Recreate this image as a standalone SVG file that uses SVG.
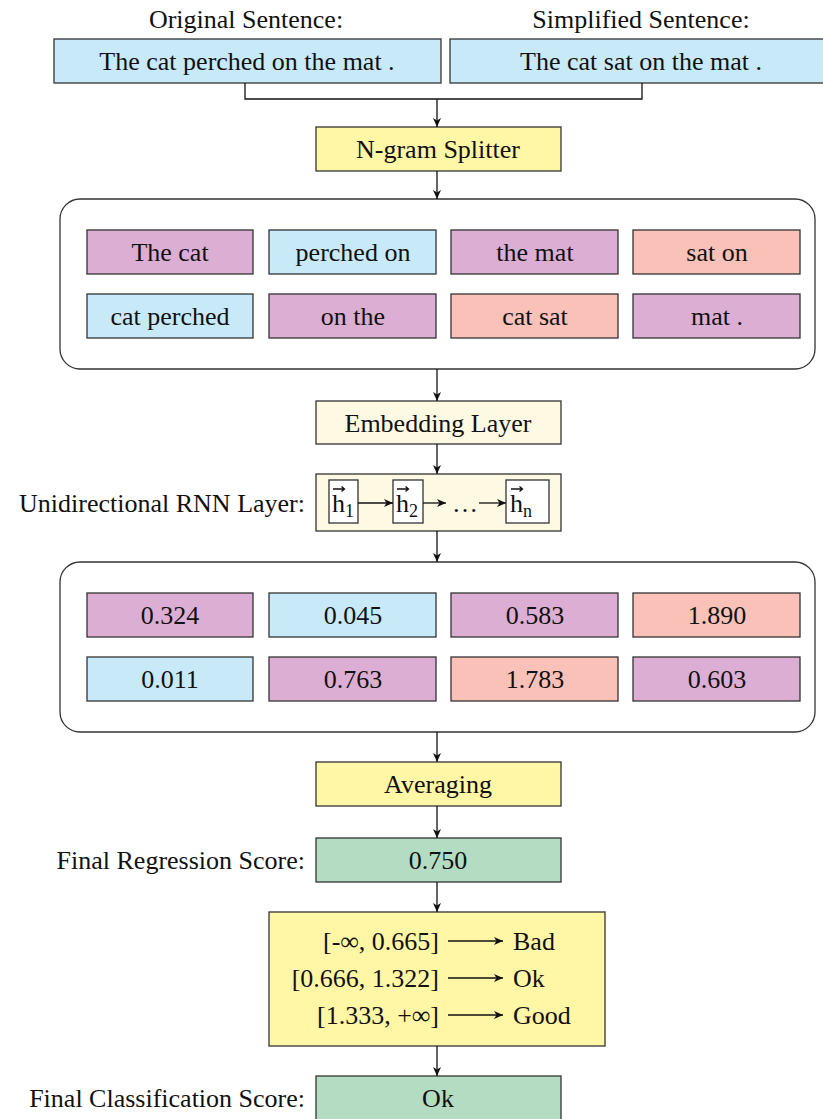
<svg xmlns="http://www.w3.org/2000/svg" width="823" height="1119" viewBox="0 0 823 1119">
  <style>
    text { font-family: "Liberation Serif", "DejaVu Serif", serif; font-size: 26px; fill: #111; }
    .c { text-anchor: middle; }
    .e { text-anchor: end; }
    .box { stroke: #333; stroke-width: 1.3; }
    .blue { fill: #c7e9f8; }
    .purple { fill: #ddaed3; }
    .salmon { fill: #f9c1b7; }
    .yellow { fill: #fff6a6; }
    .cream { fill: #fdf9e2; }
    .green { fill: #b4dcc3; }
    .white { fill: #ffffff; }
    .group { fill: #ffffff; stroke: #333; stroke-width: 1.3; }
    .wire { fill: none; stroke: #111; stroke-width: 1.3; }
    .arr { fill: none; stroke: #111; stroke-width: 1.3; marker-end: url(#stealth); }
  </style>
  <defs>
    <marker id="stealth" markerUnits="userSpaceOnUse" markerWidth="12" markerHeight="10" viewBox="-1 -5 12 10" refX="9" refY="0" orient="auto">
      <path d="M0,-4 L9,0 L0,4 L2.5,0 z" fill="#111"/>
    </marker>
  </defs>

  <!-- input sentences -->
  <g id="original">
    <text class="c" x="246" y="28">Original Sentence:</text>
    <rect class="box blue" x="54" y="39" width="387" height="44"/>
    <text class="c" x="247" y="70">The cat perched on the mat .</text>
  </g>
  <g id="simplified">
    <text class="c" x="641" y="28">Simplified Sentence:</text>
    <rect class="box blue" x="450" y="39" width="387" height="44"/>
    <text class="c" x="641" y="70">The cat sat on the mat .</text>
  </g>

  <g id="splitter">
    <rect class="box yellow" x="316" y="127" width="245" height="44"/>
    <text class="c" x="438" y="158">N-gram Splitter</text>
  </g>

  <!-- n-gram group -->
  <g id="ngrams">
    <rect class="group" x="60" y="199" width="755" height="170" rx="20" ry="20"/>
    <rect class="box purple" x="87" y="230" width="166" height="44"/>
    <text class="c" x="170" y="261">The cat</text>
    <rect class="box blue" x="269" y="230" width="167" height="44"/>
    <text class="c" x="353" y="261">perched on</text>
    <rect class="box purple" x="451" y="230" width="167" height="44"/>
    <text class="c" x="535" y="261">the mat</text>
    <rect class="box salmon" x="633" y="230" width="167" height="44"/>
    <text class="c" x="717" y="261">sat on</text>
    <rect class="box blue" x="87" y="294" width="166" height="44"/>
    <text class="c" x="170" y="325">cat perched</text>
    <rect class="box purple" x="269" y="294" width="167" height="44"/>
    <text class="c" x="353" y="325">on the</text>
    <rect class="box salmon" x="451" y="294" width="167" height="44"/>
    <text class="c" x="535" y="325">cat sat</text>
    <rect class="box purple" x="633" y="294" width="167" height="44"/>
    <text class="c" x="717" y="325">mat .</text>
  </g>

  <g id="embedding">
    <rect class="box cream" x="316" y="401" width="245" height="43"/>
    <text class="c" x="438" y="432">Embedding Layer</text>
  </g>

  <!-- recurrent layer -->
  <g id="rnn">
    <text class="e" x="305" y="512">Unidirectional RNN Layer:</text>
    <rect class="box cream" x="316" y="474" width="245" height="57"/>
    <rect class="box white" x="329" y="480" width="29" height="43"/>
    <rect class="box white" x="393" y="480" width="30" height="43"/>
    <rect class="box white" x="506" y="480" width="43" height="43"/>
    <text x="332" y="512">h<tspan font-size="18" dy="5">1</tspan></text>
    <text x="396" y="512">h<tspan font-size="18" dy="5">2</tspan></text>
    <text x="510" y="512">h<tspan font-size="18" dy="5">n</tspan></text>
    <path class="wire" d="M333,489 H344 M341.5,486.5 L344.5,489 L341.5,491.5 M397,489 H408 M405.5,486.5 L408.5,489 L405.5,491.5 M511,489 H522 M519.5,486.5 L522.5,489 L519.5,491.5" stroke-width="1"/>
    <text x="452" y="512">…</text>
    <line class="arr" x1="358" y1="503" x2="393" y2="503"/>
    <line class="arr" x1="423" y1="503" x2="446" y2="503"/>
    <line class="arr" x1="479" y1="503" x2="506" y2="503"/>
  </g>

  <!-- score group -->
  <g id="scores">
    <rect class="group" x="60" y="562" width="755" height="170" rx="20" ry="20"/>
    <rect class="box purple" x="87" y="593" width="166" height="44"/>
    <text class="c" x="170" y="624">0.324</text>
    <rect class="box blue" x="269" y="593" width="167" height="44"/>
    <text class="c" x="353" y="624">0.045</text>
    <rect class="box purple" x="451" y="593" width="167" height="44"/>
    <text class="c" x="535" y="624">0.583</text>
    <rect class="box salmon" x="633" y="593" width="167" height="44"/>
    <text class="c" x="717" y="624">1.890</text>
    <rect class="box blue" x="87" y="657" width="166" height="44"/>
    <text class="c" x="170" y="688">0.011</text>
    <rect class="box purple" x="269" y="657" width="167" height="44"/>
    <text class="c" x="353" y="688">0.763</text>
    <rect class="box salmon" x="451" y="657" width="167" height="44"/>
    <text class="c" x="535" y="688">1.783</text>
    <rect class="box purple" x="633" y="657" width="167" height="44"/>
    <text class="c" x="717" y="688">0.603</text>
  </g>

  <g id="averaging">
    <rect class="box yellow" x="316" y="762" width="245" height="44"/>
    <text class="c" x="438" y="793">Averaging</text>
  </g>

  <g id="regression">
    <text class="e" x="305" y="869">Final Regression Score:</text>
    <rect class="box green" x="316" y="838" width="245" height="44"/>
    <text class="c" x="438" y="869">0.750</text>
  </g>

  <!-- thresholds -->
  <g id="mapping">
    <rect class="box yellow" x="269" y="912" width="336" height="134"/>
    <text class="e" x="439" y="950">[-∞, 0.665]</text>
    <text class="e" x="439" y="987">[0.666, 1.322]</text>
    <text class="e" x="439" y="1024">[1.333, +∞]</text>
    <line class="arr" x1="448" y1="941" x2="503" y2="941"/>
    <line class="arr" x1="448" y1="978" x2="503" y2="978"/>
    <line class="arr" x1="448" y1="1015" x2="503" y2="1015"/>
    <text x="513" y="950">Bad</text>
    <text x="513" y="987">Ok</text>
    <text x="513" y="1024">Good</text>
  </g>

  <g id="classification">
    <text class="e" x="305" y="1107">Final Classification Score:</text>
    <rect class="box green" x="316" y="1076" width="245" height="46"/>
    <text class="c" x="438" y="1107">Ok</text>
  </g>

  <!-- connectors -->
  <g id="connectors">
    <path class="wire" d="M245,83 V99 H642 V83"/>
    <line class="arr" x1="437" y1="99" x2="437" y2="127"/>
    <line class="arr" x1="437" y1="171" x2="437" y2="199"/>
    <line class="arr" x1="437" y1="369" x2="437" y2="401"/>
    <line class="arr" x1="437" y1="444" x2="437" y2="474"/>
    <line class="arr" x1="437" y1="531" x2="437" y2="562"/>
    <line class="arr" x1="437" y1="732" x2="437" y2="762"/>
    <line class="arr" x1="437" y1="806" x2="437" y2="838"/>
    <line class="arr" x1="437" y1="882" x2="437" y2="912"/>
    <line class="arr" x1="437" y1="1046" x2="437" y2="1076"/>
  </g>
</svg>
